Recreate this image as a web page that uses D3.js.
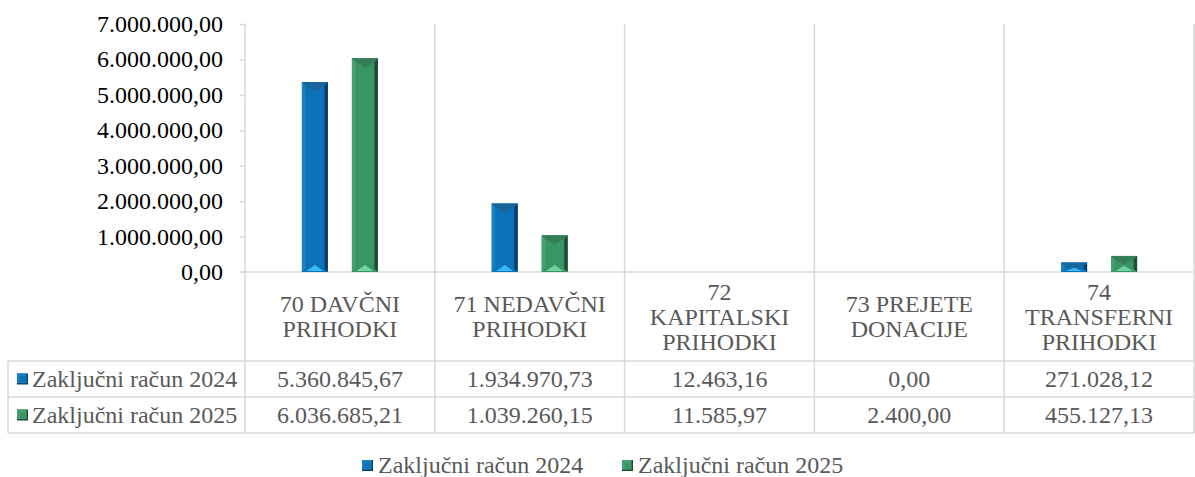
<!DOCTYPE html>
<html>
<head>
<meta charset="utf-8">
<script src="https://cdn.jsdelivr.net/npm/d3@7"></script>
</head>
<body style="margin:0">
<script>
// data
const categories = [
  ['70 DAVČNI', 'PRIHODKI'],
  ['71 NEDAVČNI', 'PRIHODKI'],
  ['72', 'KAPITALSKI', 'PRIHODKI'],
  ['73 PREJETE', 'DONACIJE'],
  ['74', 'TRANSFERNI', 'PRIHODKI']
];
const seriesNames = ['Zaključni račun 2024', 'Zaključni račun 2025'];
const values2024 = [5360845.67, 1934970.73, 12463.16, 0, 271028.12];
const values2025 = [6036685.21, 1039260.15, 11585.97, 2400.00, 455127.13];
const yTicks = [0, 1000000, 2000000, 3000000, 4000000, 5000000, 6000000, 7000000];

const width = 1195, height = 477;
const plotLeft = 245, plotRight = 1194, plotTop = 24, base = 272;
const rowTop = 361, rowH = 36, tableLeft = 8;
const gridColor = '#d9d9d9', textColor = '#595959';
const fontSize = 24;
const serif = 'Liberation Serif';

const palettes = [
  { main: '#0b71b8', left: '#1781c6', right: '#0b3f66', topT: '#1a659b', bot: '#3cb8f0' },
  { main: '#3a9564', left: '#45a270', right: '#1f4a34', topT: '#347f57', bot: '#72d3a2' }
];

// slovene number format: 1.234.567,89
const fmt = d3.formatLocale({ decimal: ',', thousands: '.', grouping: [3], currency: ['', ''] }).format(',.2f');

const svg = d3.select('body').append('svg')
  .attr('width', width)
  .attr('height', height);

const x = d3.scaleBand()
  .domain(d3.range(categories.length))
  .range([plotLeft, plotRight]);

const xs = d3.scalePoint()
  .domain(d3.range(seriesNames.length))
  .range([-25, 25]);

const y = d3.scaleLinear()
  .domain([0, 7000000])
  .range([base, plotTop]);

// grid / table lines
const g = svg.append('g').attr('stroke', gridColor).attr('stroke-width', 1.5);
x.domain().concat([categories.length]).forEach(i => {
  const xx = i < categories.length ? x(i) : plotRight;
  g.append('line').attr('x1', xx).attr('x2', xx).attr('y1', plotTop).attr('y2', rowTop + rowH * 2);
});
g.append('line').attr('x1', plotLeft - 5).attr('x2', plotRight).attr('y1', base).attr('y2', base);
[0, 1, 2].forEach(r => {
  g.append('line').attr('x1', tableLeft).attr('x2', plotRight)
    .attr('y1', rowTop + r * rowH).attr('y2', rowTop + r * rowH);
});
g.append('line').attr('x1', tableLeft).attr('x2', tableLeft).attr('y1', rowTop).attr('y2', rowTop + rowH * 2);

// y axis: ticks from d3, labels drawn as plain texts
const yAxis = svg.append('g')
  .attr('transform', `translate(${plotLeft},0)`)
  .call(d3.axisLeft(y).tickValues(yTicks).tickSize(5).tickFormat(''));
yAxis.select('.domain').remove();
yAxis.selectAll('.tick line').attr('stroke', gridColor).attr('stroke-width', 1.5);
yTicks.forEach(v => {
  svg.append('text')
    .attr('x', plotLeft - 22).attr('y', y(v) + 8)
    .attr('text-anchor', 'end')
    .attr('fill', '#000')
    .attr('font-family', serif)
    .attr('font-size', fontSize)
    .text(fmt(v));
});

// beveled bars
function bevelBar(sel, bx, by, bw, bh, p) {
  if (bh < 0.5) return;
  const b = Math.min(3.5, bw / 2, bh / 2);
  const t = Math.min(6, bh / 3);
  sel.append('rect').attr('x', bx).attr('y', by).attr('width', bw).attr('height', bh).attr('fill', p.main);
  sel.append('polygon').attr('fill', p.left)
    .attr('points', [[bx, by], [bx + b, by + b], [bx + b, by + bh - b], [bx, by + bh]].join(' '));
  sel.append('polygon').attr('fill', p.right)
    .attr('points', [[bx + bw, by], [bx + bw - b, by + b], [bx + bw - b, by + bh - b], [bx + bw, by + bh]].join(' '));
  sel.append('polygon').attr('fill', p.topT)
    .attr('points', [[bx, by], [bx + bw, by], [bx + bw - b, by + b], [bx + bw / 2, by + b + t], [bx + b, by + b]].join(' '));
  sel.append('polygon').attr('fill', p.bot)
    .attr('points', [[bx + b + 1, by + bh - 1], [bx + bw - b - 1, by + bh - 1], [bx + bw / 2, by + bh - 1 - t]].join(' '));
}

const barW = 26;
const bars = svg.append('g');
[values2024, values2025].forEach((vals, s) => {
  vals.forEach((v, i) => {
    const cx = x(i) + x.bandwidth() / 2 + xs(s);
    bevelBar(bars, cx - barW / 2, y(v), barW, y(0) - y(v), palettes[s]);
  });
});

// category header labels
const lineH = 25;
categories.forEach((lines, i) => {
  const cx = x(i) + x.bandwidth() / 2;
  const mid = (base + rowTop) / 2;
  lines.forEach((ln, k) => {
    svg.append('text')
      .attr('x', cx)
      .attr('y', mid + (k - (lines.length - 1) / 2) * lineH + 8)
      .attr('text-anchor', 'middle')
      .attr('fill', textColor)
      .attr('font-family', serif)
      .attr('font-size', fontSize)
      .text(ln);
  });
});

// legend marker
function marker(sel, mx, my, p) {
  sel.append('rect').attr('x', mx).attr('y', my).attr('width', 11).attr('height', 11).attr('fill', p.right);
  sel.append('rect').attr('x', mx).attr('y', my).attr('width', 9.5).attr('height', 9.5).attr('fill', p.left);
  sel.append('rect').attr('x', mx + 2.5).attr('y', my + 2.5).attr('width', 6).attr('height', 6).attr('fill', p.main);
}

// table rows
[values2024, values2025].forEach((vals, s) => {
  const cy = rowTop + s * rowH + rowH / 2;
  marker(svg, 17, cy - 5.5, palettes[s]);
  svg.append('text')
    .attr('x', 32).attr('y', cy + 8)
    .attr('fill', textColor).attr('font-family', serif).attr('font-size', fontSize)
    .text(seriesNames[s]);
  vals.forEach((v, i) => {
    svg.append('text')
      .attr('x', x(i) + x.bandwidth() / 2).attr('y', cy + 8)
      .attr('text-anchor', 'middle')
      .attr('fill', textColor).attr('font-family', serif).attr('font-size', fontSize)
      .text(fmt(v));
  });
});

// bottom legend
const legendX = [362, 622];
seriesNames.forEach((name, s) => {
  marker(svg, legendX[s], 460, palettes[s]);
  svg.append('text')
    .attr('x', legendX[s] + 16).attr('y', 473)
    .attr('fill', textColor).attr('font-family', serif).attr('font-size', fontSize)
    .text(name);
});
</script>
</body>
</html>
